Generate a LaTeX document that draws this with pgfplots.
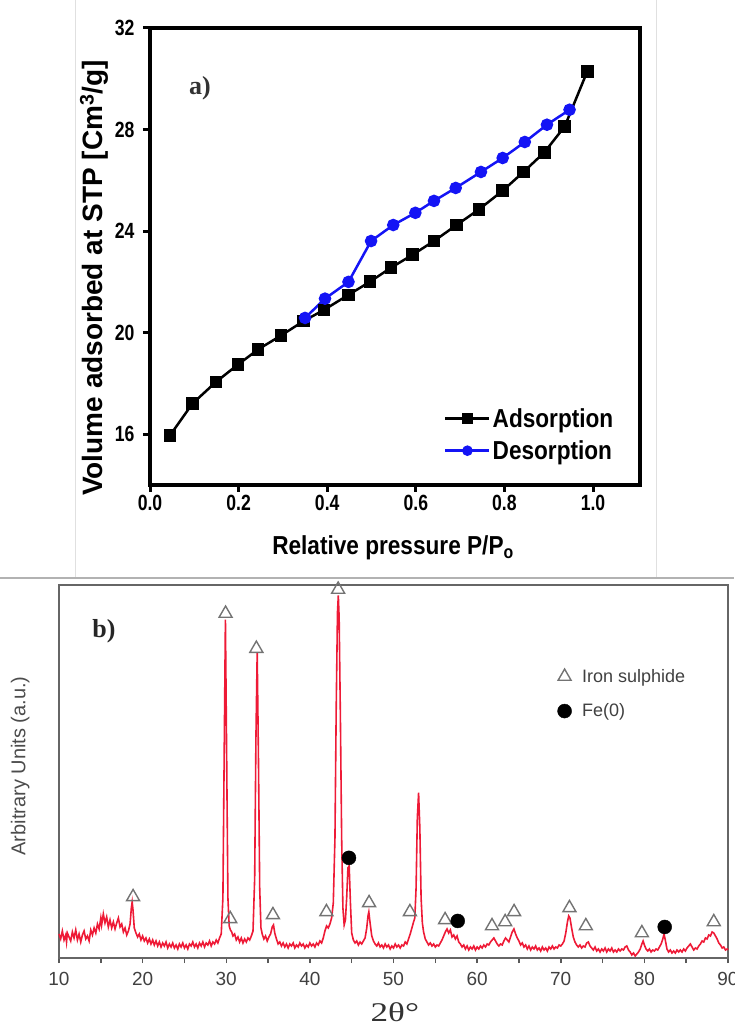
\documentclass[border=0pt]{standalone}
\usepackage{fontspec}
\setmainfont{Liberation Sans}
\newfontfamily\condb[FakeStretch=0.87]{Liberation Sans}
\newfontfamily\condc[FakeStretch=0.8]{Liberation Sans}
\newfontfamily\serifb{Liberation Serif}
\newfontfamily\serifwide[FakeStretch=1.3]{Liberation Serif}
\usepackage{pgfplots}
\pgfplotsset{compat=1.18}
\definecolor{xrdred}{RGB}{238,26,54}
\definecolor{blueline}{RGB}{20,20,245}

\pgfplotstableread{
x y
0.045 15.95
0.096 17.21
0.149 18.06
0.199 18.75
0.244 19.34
0.296 19.89
0.347 20.46
0.393 20.90
0.448 21.49
0.497 22.01
0.544 22.56
0.593 23.07
0.641 23.61
0.692 24.24
0.743 24.86
0.796 25.59
0.843 26.33
0.890 27.10
0.936 28.12
0.987 30.29
}\adsorption

\pgfplotstableread{
x y
0.350 20.58
0.395 21.34
0.448 22.00
0.499 23.61
0.549 24.24
0.599 24.72
0.641 25.19
0.690 25.70
0.747 26.33
0.796 26.88
0.846 27.51
0.896 28.19
0.947 28.78
}\desorption

\pgfplotstableread{
x y
10.0 24
10.2 19
10.4 27
10.6 18
10.8 23
10.9 16
11.0 25
11.2 21
11.4 17
11.6 26
11.8 20
12.0 28
12.2 18
12.4 24
12.6 16
12.8 23
13.0 27
13.2 19
13.4 22
13.6 17
13.8 28
14.0 23
14.2 30
14.4 25
14.6 34
14.8 29
15.0 40
15.1 33
15.3 44
15.5 35
15.7 41
15.9 31
16.1 38
16.3 30
16.5 36
16.7 29
16.9 35
17.1 40
17.3 31
17.5 34
17.7 26
17.9 30
18.1 23
18.3 27
18.5 34
18.65 50
18.75 56
18.85 48
19.0 30
19.2 25
19.4 21
19.6 24
19.8 18
20.0 22
20.2 17
20.4 20
20.6 15
20.8 19
21.0 14
21.2 18
21.4 13
21.6 17
21.8 12
22.0 16
22.2 11
22.4 15
22.6 12
22.8 16
23.0 10
23.2 14
23.4 11
23.6 15
23.8 10
24.0 13
24.2 9
24.4 14
24.6 11
24.8 15
25.0 10
25.2 13
25.4 9
25.6 14
25.8 12
26.0 16
26.2 11
26.4 14
26.6 10
26.8 15
27.0 12
27.2 16
27.4 11
27.6 15
27.8 13
28.0 17
28.2 12
28.4 16
28.6 14
28.8 18
29.0 15
29.2 20
29.4 24
29.6 60
29.75 200
29.9 338
30.05 200
30.2 60
30.35 32
30.5 28
30.65 26
30.8 22
31.0 24
31.2 18
31.4 21
31.6 16
31.8 20
32.0 15
32.2 19
32.4 16
32.6 20
32.8 18
33.0 22
33.2 27
33.4 80
33.55 220
33.7 305
33.85 200
34.0 70
34.15 30
34.3 24
34.5 19
34.7 22
34.9 17
35.1 21
35.3 24
35.5 31
35.65 33
35.8 25
36.0 19
36.2 14
36.4 16
36.6 12
36.8 15
37.0 11
37.2 14
37.4 10
37.6 14
37.8 12
38.0 15
38.2 10
38.4 13
38.6 11
38.8 15
39.0 12
39.2 14
39.4 10
39.6 13
39.8 11
40.0 15
40.2 12
40.4 14
40.6 11
40.8 15
41.0 13
41.2 17
41.4 15
41.6 20
41.8 27
42.0 32
42.2 30
42.4 34
42.6 40
42.8 55
43.0 120
43.15 250
43.3 345
43.4 362
43.5 340
43.65 240
43.8 120
43.95 50
44.1 33
44.25 38
44.4 60
44.55 90
44.7 92
44.85 55
45.0 25
45.2 18
45.4 15
45.6 17
45.8 13
46.0 16
46.2 14
46.4 17
46.6 20
46.8 30
46.95 42
47.05 46
47.2 35
47.4 22
47.6 17
47.8 14
48.0 12
48.2 15
48.4 11
48.6 13
48.8 10
49.0 14
49.2 11
49.4 13
49.6 9
49.8 12
50.0 10
50.2 14
50.4 11
50.6 13
50.8 10
51.0 13
51.2 12
51.4 16
51.6 14
51.8 19
52.0 24
52.2 30
52.4 36
52.55 40
52.7 70
52.85 140
53.0 165
53.15 130
53.3 60
53.45 35
53.6 26
53.8 19
54.0 16
54.2 13
54.4 15
54.6 12
54.8 14
55.0 11
55.2 13
55.4 12
55.6 15
55.8 18
56.0 22
56.2 26
56.4 29
56.6 25
56.8 28
57.0 21
57.2 23
57.4 19
57.6 22
57.8 16
58.0 14
58.2 11
58.4 13
58.6 9
58.8 12
59.0 8
59.2 11
59.4 9
59.6 12
59.8 8
60.0 11
60.2 9
60.4 12
60.6 10
60.8 13
61.0 11
61.2 14
61.4 13
61.6 16
61.8 18
62.0 20
62.2 17
62.4 14
62.6 12
62.8 14
63.0 13
63.2 17
63.4 20
63.6 18
63.8 16
64.0 21
64.2 26
64.4 29
64.6 24
64.8 20
65.0 17
65.2 13
65.4 15
65.6 11
65.8 13
66.0 9
66.2 12
66.4 8
66.6 11
66.8 9
67.0 12
67.2 8
67.4 10
67.6 7
67.8 11
68.0 8
68.2 10
68.4 7
68.6 11
68.8 9
69.0 12
69.2 9
69.4 11
69.6 10
69.8 13
70.0 12
70.2 14
70.4 17
70.6 25
70.8 36
70.95 42
71.1 40
71.3 30
71.5 21
71.7 16
71.9 13
72.1 11
72.3 13
72.5 10
72.7 12
72.9 11
73.1 15
73.3 16
73.5 12
73.7 10
73.9 8
74.1 11
74.3 7
74.5 9
74.7 6
74.9 9
75.1 7
75.3 10
75.5 6
75.7 9
75.9 7
76.1 10
76.3 6
76.5 8
76.7 6
76.9 9
77.1 7
77.3 9
77.5 8
77.7 11
77.9 12
78.1 8
78.3 6
78.5 3
78.7 5
78.9 2
79.1 4
79.3 6
79.5 9
79.7 14
79.85 17
80.0 13
80.2 9
80.4 7
80.6 9
80.8 6
81.0 8
81.2 7
81.4 9
81.6 8
81.8 11
82.0 14
82.2 19
82.35 24
82.5 18
82.7 9
82.9 6
83.1 8
83.3 5
83.5 7
83.7 5
83.9 8
84.1 6
84.3 8
84.5 6
84.7 9
84.9 7
85.1 10
85.3 12
85.5 14
85.7 11
85.9 8
86.1 10
86.3 9
86.5 12
86.7 14
86.9 17
87.1 16
87.3 20
87.5 19
87.7 23
87.9 22
88.1 26
88.3 25
88.5 22
88.7 19
88.9 15
89.1 13
89.3 10
89.5 11
89.7 8
89.9 9
90.0 8
}\xrd

\pgfplotstableread{
x y
18.86 61
29.92 344
30.48 39
33.60 309
35.58 43
41.98 46
43.38 368
47.08 55
51.96 46
56.17 38
61.78 32
63.35 36
64.42 46
71.04 50
73.00 32
79.70 25
88.30 36
}\ironsulphide

\pgfplotstableread{
x y
44.67 100
57.68 37
82.43 31
}\fezero

\begin{document}
\begin{tikzpicture}
\path[use as bounding box] (0pt,0pt) rectangle (734pt,1028pt);
\draw[black!12, line width=1pt] (75pt,450pt) -- (75pt,1028pt);
\draw[black!12, line width=1pt] (656pt,450pt) -- (656pt,1028pt);
\draw[black!30, line width=1.5pt] (0pt,450pt) -- (734pt,450pt);

% ---------------- panel a ----------------
\begin{axis}[
  at={(150pt,543pt)}, anchor=south west,
  width=490pt, height=457pt, scale only axis,
  xmin=0, xmax=1.106, ymin=14, ymax=32,
  xtick={0,0.2,0.4,0.6,0.8,1.0},
  ytick={16,20,24,28,32},
  xticklabel style={/pgf/number format/fixed, /pgf/number format/fixed zerofill, /pgf/number format/precision=1},
  yticklabel style={xshift=-5pt},
  /pgf/number format/assume math mode=true,
  axis line style={line width=3.5pt},
  tick style={line width=3pt, black},
  major tick length=7pt,
  tick align=outside, xtick pos=bottom, ytick pos=left,
  tick label style={font=\condc\bfseries\fontsize{22}{22}\selectfont},
  xlabel={Relative pressure P/P\textsubscript{o}},
  xlabel style={font=\condb\bfseries\fontsize{26}{26}\selectfont, at={(axis description cs:0.496,-0.138)}, anchor=center},
  ylabel={Volume adsorbed at STP [Cm\textsuperscript{3}/g]},
  ylabel style={font=\bfseries\fontsize{28}{28}\selectfont, at={(axis description cs:-0.114,0.453)}, anchor=center},
  legend style={at={(axis description cs:0.95,0.048)}, anchor=south east, draw=none, fill=none,
     font=\condb\bfseries\fontsize{26}{26}\selectfont, row sep=8pt, inner sep=0pt},
  legend cell align=left,
  legend image code/.code={\draw[#1, mark size=4pt, mark repeat=2, mark phase=2] plot coordinates {(0pt,0pt) (22pt,0pt) (44pt,0pt)};},
]
\addplot[black, line width=2.5pt, mark=square*, mark size=5pt] table {\adsorption};
\addlegendentry{Adsorption}
\addplot[blueline, line width=2.5pt, mark=*, mark size=5pt] table {\desorption};
\addlegendentry{Desorption}
\end{axis}
\node[font=\serifb\bfseries\fontsize{26}{26}\selectfont, text=black!80] at (200pt,940pt) {a)};

% ---------------- panel b ----------------
\begin{axis}[
  at={(59pt,70pt)}, anchor=south west,
  width=669pt, height=373pt, scale only axis,
  xmin=10, xmax=90, ymin=0, ymax=372.5,
  clip=false,
  xtick={10,20,...,90}, minor xtick={15,25,...,85},
  ytick=\empty,
  /pgf/number format/assume math mode=true,
  axis line style={line width=2.8pt, black!60},
  tick style={line width=1.5pt, black!65},
  major tick length=5pt, minor tick length=5pt,
  tick align=outside, xtick pos=bottom,
  tick label style={font=\fontsize{19}{19}\selectfont, text=black!75},
  xticklabel style={yshift=-6pt},
  xlabel={2θ°},
  xlabel style={font=\serifwide\fontsize{27}{27}\selectfont, text=black!80, at={(axis description cs:0.502,-0.145)}, anchor=center},
  ylabel={Arbitrary Units (a.u.)},
  ylabel style={font=\fontsize{20}{20}\selectfont, text=black!70, at={(axis description cs:-0.058,0.515)}, anchor=center},
  legend style={at={(axis description cs:0.745,0.78)}, anchor=north west, draw=none, fill=none,
     font=\fontsize{18}{18}\selectfont, text=black!75, row sep=16pt, inner sep=0pt},
  legend cell align=left,
  legend image code/.code={\path[draw=none] (0pt,0pt) -- (20.5pt,0pt); \draw[#1] plot coordinates {(5pt,0pt)};},
]
\addplot[xrdred, line width=1.6pt, forget plot] table {\xrd};
\addplot[only marks, mark=triangle, mark size=7.5pt, mark options={draw=black!55, fill=white, line width=1.4pt}] table {\ironsulphide};
\addlegendentry{Iron sulphide}
\addplot[only marks, mark=*, mark size=7pt, mark options={draw=black, fill=black}] table {\fezero};
\addlegendentry{Fe(0)}
\end{axis}
\node[font=\serifb\bfseries\fontsize{26}{26}\selectfont, text=black!85] at (104pt,397pt) {b)};
\end{tikzpicture}
\end{document}
